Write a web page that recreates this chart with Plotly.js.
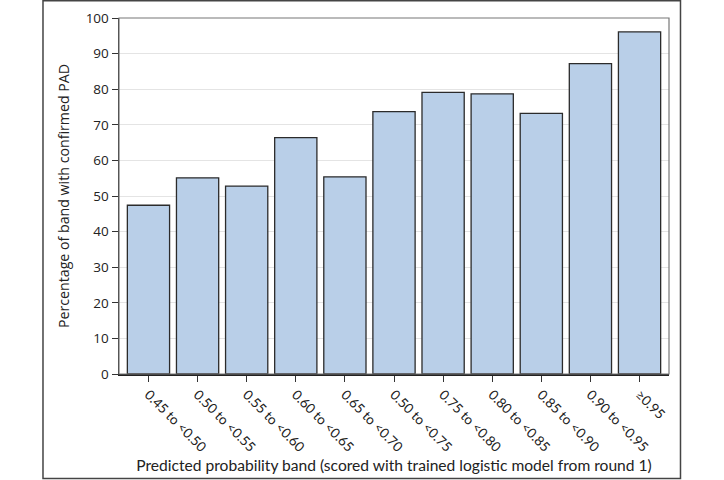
<!DOCTYPE html>
<html>
<head>
<meta charset="utf-8">
<script src="https://cdn.plot.ly/plotly-3.0.1.min.js"></script>
<style>html,body{margin:0;padding:0;background:#fff;}#chart{width:724px;height:480px;}</style>
</head>
<body>
<div id="chart"></div>
<script>
const bands = ["0.45 to <0.50", "0.50 to <0.55", "0.55 to <0.60", "0.60 to <0.65", "0.65 to <0.70", "0.50 to <0.75", "0.75 to <0.80", "0.80 to <0.85", "0.85 to <0.90", "0.90 to <0.95", "\u22650.95"];
const pctConfirmed = [47.4, 55.1, 52.8, 66.4, 55.4, 73.7, 79.1, 78.7, 73.2, 87.2, 96.1];
const yTicks = [0, 10, 20, 30, 40, 50, 60, 70, 80, 90, 100];

const trace = {
  type: "bar",
  x: bands.map((b, i) => i),
  y: pctConfirmed,
  width: 0.86,
  marker: {color: "#b9cfe8", line: {color: "#2b2b2b", width: 1.3}},
  hoverinfo: "skip"
};

const layout = {
  width: 724, height: 480,
  margin: {l: 119, r: 55, t: 18, b: 106},
  paper_bgcolor: "#ffffff", plot_bgcolor: "#ffffff",
  showlegend: false,
  font: {family: "Lato, 'Open Sans', sans-serif", color: "#222"},
  xaxis: {
    range: [-0.6, 10.6],
    tickmode: "array",
    tickvals: bands.map((b, i) => i),
    ticktext: bands,
    tickangle: 45,
    ticks: "outside", ticklen: 6, tickcolor: "#333", tickwidth: 1,
    tickfont: {family: "Lato, sans-serif", size: 13.5, color: "#222"},
    showgrid: false, zeroline: false,
    showline: true, linecolor: "#222", linewidth: 1.5,
    title: {text: "Predicted probability band (scored with trained logistic model from round 1)", font: {family: "Lato, sans-serif", size: 15.6, color: "#222"}, standoff: 6}
  },
  yaxis: {
    range: [0, 100],
    tickmode: "array",
    tickvals: yTicks,
    ticks: "outside", ticklen: 6, tickcolor: "#333", tickwidth: 1,
    tickfont: {family: "'Open Sans', sans-serif", size: 13.5, color: "#222"},
    showgrid: true, gridcolor: "#e4e4e4", gridwidth: 1,
    zeroline: false,
    showline: true, linecolor: "#222", linewidth: 1.5,
    title: {text: "Percentage of band with confirmed PAD", font: {family: "'Open Sans', sans-serif", size: 14.2, color: "#222"}, standoff: 12}
  },
  shapes: [
    {type: "rect", xref: "paper", yref: "paper", x0: 0, x1: 1, y0: 0, y1: 1, line: {color: "#777", width: 1.2}, layer: "above"},
    {type: "rect", xref: "paper", yref: "paper", x0: -0.1382, x1: 1.0209, y0: -0.2935, y1: 1.0487, line: {color: "#444", width: 1.5}}
  ]
};

Plotly.newPlot("chart", [trace], layout, {displayModeBar: false, staticPlot: true});
</script>
</body>
</html>
